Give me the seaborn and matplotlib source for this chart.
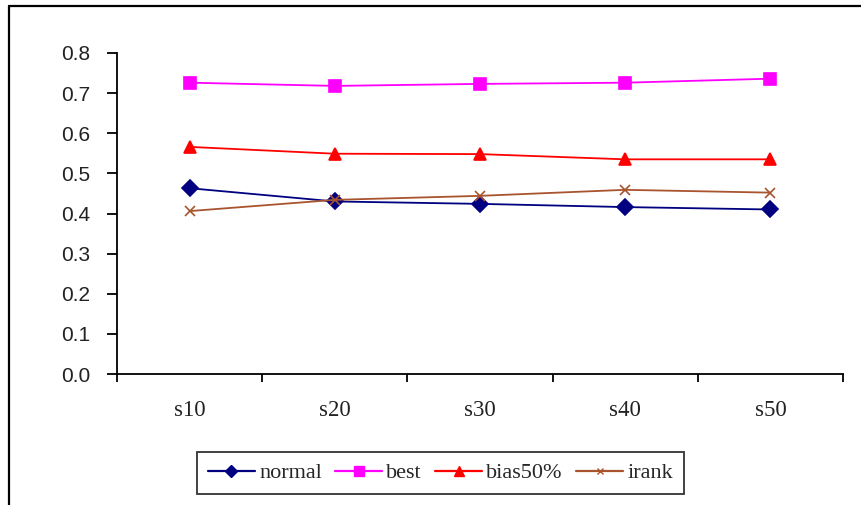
import matplotlib
matplotlib.use("Agg")
import matplotlib.pyplot as plt
import seaborn as sns
import pandas as pd
from matplotlib.lines import Line2D
from matplotlib.ticker import FixedLocator, NullFormatter

categories = ["s10", "s20", "s30", "s40", "s50"]
normal = [0.463, 0.430, 0.424, 0.416, 0.410]
best = [0.726, 0.718, 0.723, 0.726, 0.736]
bias50 = [0.566, 0.549, 0.548, 0.535, 0.535]
irank = [0.406, 0.434, 0.444, 0.459, 0.452]
series_names = ["normal", "best", "bias50%", "irank"]
y_ticks = [0.0, 0.1, 0.2, 0.3, 0.4, 0.5, 0.6, 0.7, 0.8]

series_vals = [normal, best, bias50, irank]
rows = []
for name, vals in zip(series_names, series_vals):
    for i, (c, v) in enumerate(zip(categories, vals)):
        rows.append({"pos": i + 0.5, "cat": c, "value": v, "series": name})
df = pd.DataFrame(rows)

sns.set_style("white")
fig = plt.figure(figsize=(8.61, 5.05), dpi=100)
ax = fig.add_axes([117 / 861, 1 - 374 / 505, (843 - 117) / 861, (374 - 53) / 505])

palette = {"normal": "#000080", "best": "#FF00FF", "bias50%": "#FF0000", "irank": "#A8542E"}
markers = {"normal": "D", "best": "s", "bias50%": "^", "irank": "x"}
sizes = {"normal": 8, "best": 9, "bias50%": 9, "irank": 7}

for name in series_names:
    sub = df[df["series"] == name]
    sns.lineplot(data=sub, x="pos", y="value", ax=ax, color=palette[name],
                 marker=markers[name], markersize=sizes[name],
                 markeredgecolor=palette[name], markeredgewidth=1.2,
                 linewidth=1.3, label=name, legend=False)

ax.set_xlim(0, len(categories))
ax.set_ylim(0, 0.8)
ax.set_xlabel("")
ax.set_ylabel("")

for s in ["top", "right"]:
    ax.spines[s].set_visible(False)
for s in ["left", "bottom"]:
    ax.spines[s].set_color("black")
    ax.spines[s].set_linewidth(1.3)

ax.set_yticks(y_ticks)
ax.set_yticklabels([f"{v:.1f}" for v in y_ticks], fontfamily="Liberation Sans", fontsize=15, color="#222222")
ax.tick_params(axis="y", direction="out", length=7, width=1.3, color="black", pad=12, left=True)

ax.xaxis.set_major_locator(FixedLocator(list(range(len(categories) + 1))))
ax.xaxis.set_major_formatter(NullFormatter())
ax.xaxis.set_minor_locator(FixedLocator([i + 0.5 for i in range(len(categories))]))
ax.set_xticklabels(categories, minor=True, fontfamily="Liberation Serif", fontsize=16.5, color="#222222")
ax.tick_params(axis="x", which="major", direction="out", length=6, width=1.3, color="black", bottom=True)
ax.tick_params(axis="x", which="minor", length=0, pad=19)

handles = [Line2D([0], [0], color=palette[n], marker=markers[n], markersize=sizes[n] - 2,
                  markeredgecolor=palette[n], linewidth=1.6) for n in series_names]
leg = fig.legend(handles, series_names, loc="center", bbox_to_anchor=(440.5 / 861, 1 - 473 / 505),
                 ncol=4, frameon=True, fancybox=False, handlelength=2.1, handletextpad=0.2,
                 columnspacing=0.6, borderpad=0.5, borderaxespad=0,
                 prop={"family": "Liberation Serif", "size": 16})
leg.get_frame().set_edgecolor("black")
leg.get_frame().set_linewidth(1.3)

# outer chart border (left and top)
fig.add_artist(Line2D([8.5 / 861, 8.5 / 861], [0, 1 - 5.5 / 505], transform=fig.transFigure, color="black", linewidth=1.6))
fig.add_artist(Line2D([8.5 / 861, 1], [1 - 5.5 / 505, 1 - 5.5 / 505], transform=fig.transFigure, color="black", linewidth=1.6))

fig.savefig("out.png", dpi=100)
